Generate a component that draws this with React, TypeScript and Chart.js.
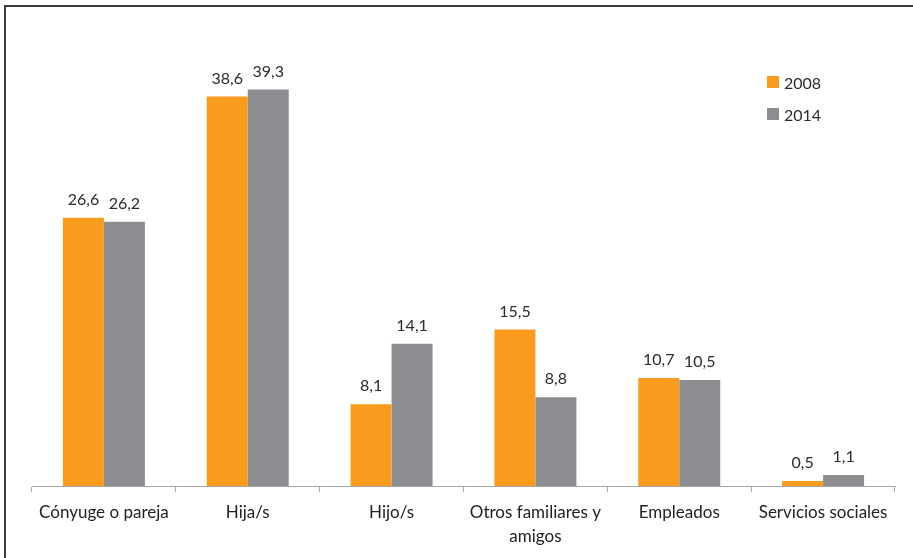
import React, { useEffect, useRef } from "react";
import { Chart, registerables } from "chart.js";

Chart.register(...registerables);

const categories: (string | string[])[] = [
  "Cónyuge o pareja",
  "Hija/s",
  "Hijo/s",
  ["Otros familiares y", "amigos"],
  "Empleados",
  "Servicios sociales",
];
const values2008 = [26.6, 38.6, 8.1, 15.5, 10.7, 0.5];
const values2014 = [26.2, 39.3, 14.1, 8.8, 10.5, 1.1];
const seriesNames = ["2008", "2014"];
const seriesColors = ["#F99B1C", "#8C8D91"];

const FONT = "Lato, 'Open Sans', sans-serif";

const labelPlugin = {
  id: "valueLabels",
  afterDatasetsDraw(chart: any) {
    const ctx = chart.ctx;
    ctx.save();
    ctx.font = `16px ${FONT}`;
    ctx.fillStyle = "#2b2b2b";
    ctx.textAlign = "center";
    ctx.textBaseline = "alphabetic";
    chart.data.datasets.forEach((ds: any, di: number) => {
      const meta = chart.getDatasetMeta(di);
      meta.data.forEach((el: any, i: number) => {
        const v = ds.data[i] as number;
        const txt = v.toFixed(1).replace(".", ",");
        ctx.fillText(txt, el.x, el.y - 13);
      });
    });
    ctx.restore();
  },
};

export default function App() {
  const ref = useRef<HTMLCanvasElement | null>(null);
  useEffect(() => {
    if (!ref.current) return;
    const chart = new Chart(ref.current, {
      type: "bar",
      data: {
        labels: categories,
        datasets: [
          { label: seriesNames[0], data: values2008, backgroundColor: seriesColors[0] },
          { label: seriesNames[1], data: values2014, backgroundColor: seriesColors[1] },
        ],
      },
      options: {
        animation: false,
        responsive: false,
        layout: { padding: { left: 32, right: 18, top: 32, bottom: 0 } },
        plugins: { legend: { display: false }, tooltip: { enabled: false } },
        datasets: { bar: { categoryPercentage: 0.57, barPercentage: 1 } },
        scales: {
          y: { display: false, min: 0, max: 45 },
          x: {
            afterFit: (scale: any) => {
              scale.height = 72;
            },
            border: { display: true, color: "#A6A6A6", width: 1 },
            grid: {
              display: true,
              offset: true,
              drawOnChartArea: false,
              drawTicks: true,
              tickLength: 6,
              color: "#A6A6A6",
            },
            ticks: {
              color: "#222222",
              padding: 8,
              autoSkip: false,
              maxRotation: 0,
              font: { family: FONT, size: 17, lineHeight: 1.42 },
            },
          },
        },
      },
      plugins: [labelPlugin],
    });
    return () => chart.destroy();
  }, []);

  return (
    <div style={{ position: "fixed", left: 0, top: 0, width: 913, height: 558, overflow: "hidden", background: "#fff" }}>
      <div
        style={{
          position: "absolute",
          left: 4,
          top: 5,
          width: 1000,
          height: 1000,
          borderLeft: "2px solid #3a3a3a",
          borderTop: "2px solid #3a3a3a",
        }}
      />
      <canvas ref={ref} width={913} height={558} style={{ position: "absolute", left: 0, top: 0 }} />
      {seriesNames.map((n, i) => (
        <div
          key={n}
          style={{
            position: "absolute",
            left: 767,
            top: 73 + i * 32,
            height: 18,
            display: "flex",
            alignItems: "center",
            fontFamily: FONT,
            fontSize: 16,
            color: "#2b2b2b",
          }}
        >
          <span style={{ display: "inline-block", width: 12, height: 12, background: seriesColors[i], marginRight: 5 }} />
          <span>{n}</span>
        </div>
      ))}
    </div>
  );
}
